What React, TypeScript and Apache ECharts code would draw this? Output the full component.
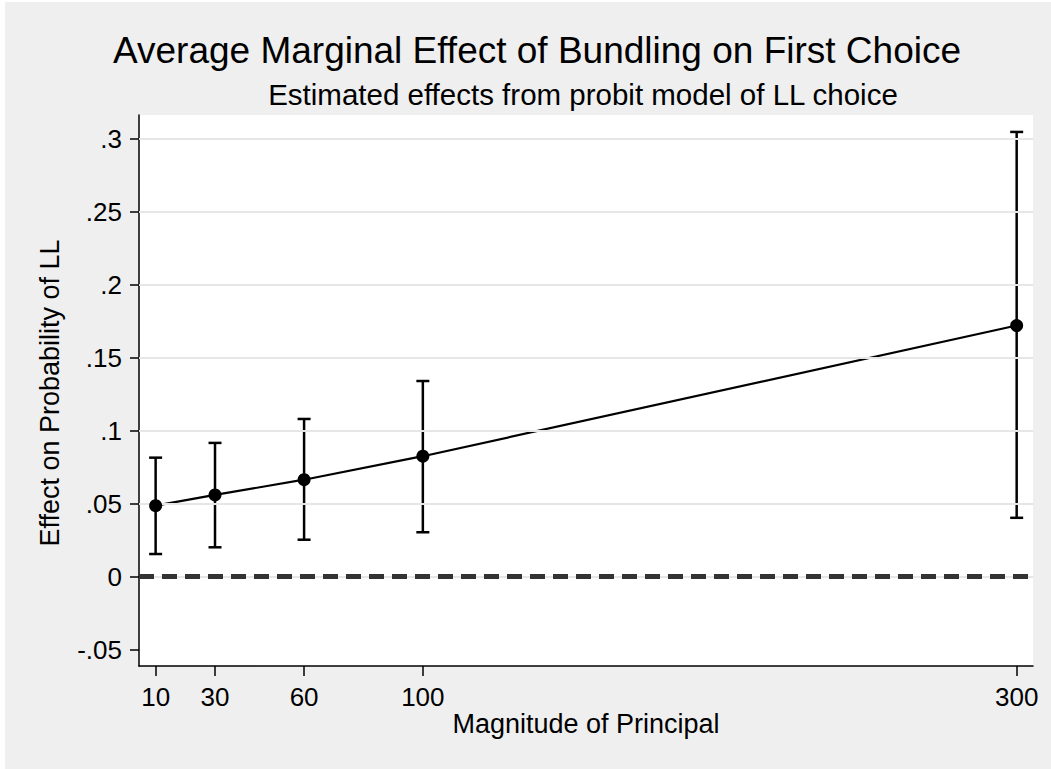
import React, { useEffect, useRef } from "react";
import * as echarts from "echarts";

const xValues = [10, 30, 60, 100, 300];
const estimates = [0.0486, 0.056, 0.0664, 0.0825, 0.172];
const lowerCI = [0.0155, 0.0201, 0.0253, 0.0304, 0.0403];
const upperCI = [0.0815, 0.0916, 0.108, 0.134, 0.3046];

const xTickValues = [10, 30, 60, 100, 300];
const yTickValues = [-0.05, 0, 0.05, 0.1, 0.15, 0.2, 0.25, 0.3];
const yTickLabels = ["-.05", "0", ".05", ".1", ".15", ".2", ".25", ".3"];
const gridValues = [0, 0.05, 0.1, 0.15, 0.2, 0.25, 0.3];
const zeroLine = [0];

const titleText = "Average Marginal Effect of Bundling on First Choice";
const subtitleText = "Estimated effects from probit model of LL choice";
const xTitle = "Magnitude of Principal";
const yTitle = "Effect on Probability of LL";

const FONT = "'Liberation Sans', Arial, Helvetica, sans-serif";

export default function App() {
  const ref = useRef<HTMLDivElement>(null);

  useEffect(() => {
    if (!ref.current) return;
    const chart = echarts.init(ref.current, null, { renderer: "svg" });

    const errData = xValues.map((x, i) => [x, lowerCI[i], upperCI[i]]);
    const lineData = xValues.map((x, i) => [x, estimates[i]]);

    const option: any = {
      animation: false,
      backgroundColor: "#efefef",
      textStyle: { fontFamily: FONT },
      grid: {
        left: 134,
        top: 113,
        width: 894,
        height: 551,
        show: true,
        backgroundColor: "#ffffff",
        borderWidth: 0,
      },
      xAxis: {
        type: "value",
        min: 4.4,
        max: 305.5,
        splitLine: { show: false },
        axisLine: { onZero: false, lineStyle: { color: "#000", width: 1.5 } },
        axisTick: {
          customValues: xTickValues,
          length: 10,
          lineStyle: { color: "#000", width: 1.5 },
        },
        axisLabel: {
          customValues: xTickValues,
          margin: 18,
          fontSize: 26,
          color: "#000",
          fontFamily: FONT,
        },
      },
      yAxis: {
        type: "value",
        min: -0.0612,
        max: 0.3162,
        splitLine: { show: false },
        axisLine: { show: true, onZero: false, lineStyle: { color: "#000", width: 1.5 } },
        axisTick: {
          show: true,
          customValues: yTickValues,
          length: 9,
          lineStyle: { color: "#000", width: 1.5 },
        },
        axisLabel: {
          customValues: yTickValues,
          margin: 17,
          fontSize: 26,
          color: "#000",
          fontFamily: FONT,
          formatter: (v: number) => {
            const idx = yTickValues.findIndex((t) => Math.abs(t - v) < 1e-9);
            return idx >= 0 ? yTickLabels[idx] : "";
          },
        },
      },
      graphic: [
        {
          type: "text",
          x: 532,
          y: 48,
          style: {
            text: titleText,
            fill: "#000",
            font: `37px ${FONT}`,
            align: "center",
            verticalAlign: "middle",
          },
        },
        {
          type: "text",
          x: 578,
          y: 92,
          style: {
            text: subtitleText,
            fill: "#000",
            font: `29.5px ${FONT}`,
            align: "center",
            verticalAlign: "middle",
          },
        },
        {
          type: "text",
          x: 581,
          y: 722,
          style: {
            text: xTitle,
            fill: "#000",
            font: `27px ${FONT}`,
            align: "center",
            verticalAlign: "middle",
          },
        },
        {
          type: "text",
          x: 45,
          y: 391,
          rotation: Math.PI / 2,
          style: {
            text: yTitle,
            fill: "#000",
            font: `27px ${FONT}`,
            align: "center",
            verticalAlign: "middle",
          },
        },
      ],
      series: [
        {
          type: "line",
          data: [],
          silent: true,
          z: 1,
          markLine: {
            silent: true,
            symbol: "none",
            label: { show: false },
            lineStyle: { color: "#e6e6e6", width: 2, type: "solid" },
            data: gridValues.map((v) => ({ yAxis: v })),
          },
        },
        {
          type: "line",
          data: [],
          silent: true,
          z: 2,
          markLine: {
            silent: true,
            symbol: "none",
            label: { show: false },
            lineStyle: { color: "#333333", width: 5, type: [15, 8] },
            data: zeroLine.map((v) => ({ yAxis: v })),
          },
        },
        {
          type: "custom",
          z: 3,
          data: errData,
          renderItem: (params: any, api: any) => {
            const x = api.value(0);
            const lo = api.coord([x, api.value(1)]);
            const hi = api.coord([x, api.value(2)]);
            const half = 6.5;
            const style = { stroke: "#000", lineWidth: 2.5 };
            return {
              type: "group",
              children: [
                { type: "line", shape: { x1: lo[0], y1: lo[1], x2: hi[0], y2: hi[1] }, style },
                { type: "line", shape: { x1: lo[0] - half, y1: lo[1], x2: lo[0] + half, y2: lo[1] }, style },
                { type: "line", shape: { x1: hi[0] - half, y1: hi[1], x2: hi[0] + half, y2: hi[1] }, style },
              ],
            };
          },
        },
        {
          type: "line",
          z: 4,
          data: lineData,
          showSymbol: false,
          symbol: "none",
          lineStyle: { color: "#000", width: 2.2 },
        },
        {
          type: "scatter",
          z: 5,
          data: lineData,
          symbol: "circle",
          symbolSize: 13,
          itemStyle: { color: "#000", opacity: 1 },
        },
      ],
    };

    chart.setOption(option);
    return () => chart.dispose();
  }, []);

  return (
    <div
      ref={ref}
      style={{ position: "absolute", left: 5, top: 2, width: 1046, height: 767 }}
    />
  );
}
